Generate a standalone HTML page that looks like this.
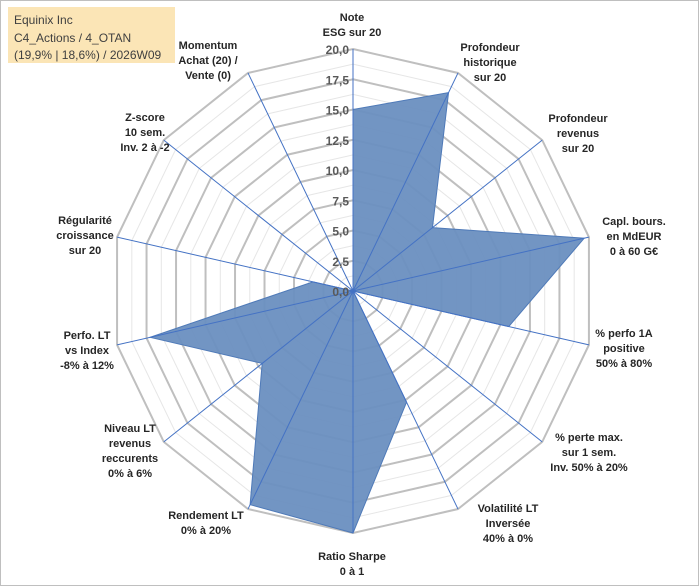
<!DOCTYPE html>
<html><head><meta charset="utf-8"><style>
body{margin:0;background:#fff}
svg{display:block}
.lbl{font-family:"Liberation Sans",sans-serif;font-size:11px;font-weight:bold;fill:#262626;text-anchor:middle}
.tick{font-family:"Liberation Sans",sans-serif;font-size:12px;font-weight:bold;fill:#595959;text-anchor:end}
.ttl{font-family:"Liberation Sans",sans-serif;font-size:12px;fill:#404040}
</style></head><body>
<svg id="c" width="700" height="587">
<rect x="0.5" y="0.5" width="698" height="585" fill="#fff" stroke="#bfbfbf"/>
<g id="grid"></g>
<g id="series"></g>
<g id="axes"></g>
<g id="ticks"></g>
<g id="labels"></g>
<rect x="8" y="7" width="167" height="56" fill="#fbe5b6"/>
<text class="ttl" x="14" y="24">Equinix Inc</text>
<text class="ttl" x="14" y="42">C4_Actions / 4_OTAN</text>
<text class="ttl" x="14" y="59">(19,9% | 18,6%) / 2026W09</text>
</svg>
<script>
const categories=[["Note","ESG sur 20"],["Profondeur","historique","sur 20"],["Profondeur","revenus","sur 20"],["Capl. bours.","en MdEUR","0 à 60 G€"],["% perfo 1A","positive","50% à 80%"],["% perte max.","sur 1 sem.","Inv. 50% à 20%"],["Volatilité LT","Inversée","40% à 0%"],["Ratio Sharpe","0 à 1"],["Rendement LT","0% à 20%"],["Niveau LT","revenus","reccurents","0% à 6%"],["Perfo. LT","vs Index","-8% à 12%"],["Régularité","croissance","sur 20"],["Z-score","10 sem.","Inv. 2 à -2"],["Momentum","Achat (20) /","Vente (0)"]];
const values=[15,18.2,8.4,19.6,13.2,0,10.2,20,19.6,9.6,17.2,3.4,0,0];
const tickLabels=["0,0","2,5","5,0","7,5","10,0","12,5","15,0","17,5","20,0"];
const labelPos=[[352,17],[490,47],[578,118],[634,221],[624,333],[589,437],[508,508],[352,556],[206,515],[130,428],[87,335],[85,220],[145,117],[208,45]];
const NS="http://www.w3.org/2000/svg";
const cx=353,cy=291,R=242,maxV=20,n=categories.length;
function rr(v){return v/maxV*R;}
function pt(i,v){const a=i*2*Math.PI/n;return [cx+rr(v)*Math.sin(a),cy-rr(v)*Math.cos(a)];}
function mk(tag,attrs,parent){const e=document.createElementNS(NS,tag);for(const k in attrs)e.setAttribute(k,attrs[k]);parent.appendChild(e);return e;}
const grid=document.getElementById('grid');
for(let s=1;s<=16;s++){const v=s*1.25;const pts=[];for(let i=0;i<n;i++)pts.push(pt(i,v).join(','));
const g=mk('polygon',{points:pts.join(' '),fill:'none',stroke:s%2?'#e6e6e6':'#bfbfbf','stroke-width':s%2?1:2},grid);

}
const ser=document.getElementById('series');
const sp=values.map((v,i)=>pt(i,v).join(',')).join(' ');
const poly=mk('polygon',{points:sp,fill:'#6a8fc0',stroke:'#4f7ab8','stroke-width':1,'fill-opacity':0.95},ser);


const ax=document.getElementById('axes');
for(let i=0;i<n;i++){const p=pt(i,maxV);const l=mk('line',{x1:cx,y1:cy,x2:p[0],y2:p[1],stroke:'#4472c4','stroke-width':1},ax);

}
const tk=document.getElementById('ticks');
tickLabels.forEach((t,j)=>{const e=mk('text',{class:'tick',x:cx-4,y:cy-rr(j*2.5)+5},tk);e.textContent=t;

});
const lb=document.getElementById('labels');
categories.forEach((c,i)=>{const [x,y]=labelPos[i];const t=mk('text',{class:'lbl',x:x,y:y+4},lb);


c.forEach((line,k)=>{const s=mk('tspan',{x:x,dy:k?15:0},t);s.textContent=line;});});
</script>
</body></html>
